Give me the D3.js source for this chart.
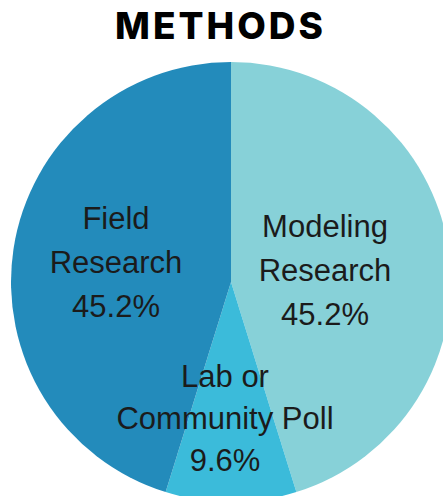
<!DOCTYPE html>
<meta charset="utf-8">
<style>
body {
  margin: 0;
  overflow: hidden;
  background: #fff;
}
.labels text {
  font-family: "Liberation Sans", Arial, sans-serif;
  font-size: 31px;
  fill: #1b1b1b;
  text-anchor: middle;
}
.title {
  font-family: Inter, "DejaVu Sans", sans-serif;
  font-weight: 800;
  font-size: 37px;
  fill: #000;
  text-anchor: middle;
}
</style>
<svg id="svg" width="443" height="496"></svg>
<script src="https://d3js.org/d3.v7.min.js"></script>
<script>

// slices, clockwise from 12 o'clock
var methods = ["Modeling Research", "Lab or Community Poll", "Field Research"];
var shares = [45.2, 9.6, 45.2];
var labelLines = [["Modeling", "Research"], ["Lab or", "Community Poll"], ["Field", "Research"]];
var colors = ["#87d1d8", "#3bbbda", "#238bbb"];

var svg = d3.select("svg"),
    cx = 231,
    cy = 282,
    radius = 220;

var color = d3.scaleOrdinal().domain(methods).range(colors);

var pie = d3.pie()
    .sort(null)
    .value(function(d, i) { return shares[i]; });

var arc = d3.arc().innerRadius(0).outerRadius(radius);

var arcs = pie(methods);

var g = svg.append("g").attr("transform", "translate(" + cx + "," + cy + ")");

g.append("g").selectAll("path")
    .data(arcs)
    .enter().append("path")
    .attr("d", arc)
    .attr("fill", function(d) { return color(d.data); });

// label anchor points (centre of first line baseline, relative to pie centre)
var labelPos = [[94, -45], [-6, 105], [-115, -53]];
var lineGap = [44, 42, 44];

var labels = g.append("g").attr("class", "labels");
arcs.forEach(function(d, i) {
  var lines = labelLines[i].concat([shares[i].toFixed(1) + "%"]);
  var t = labels.append("text")
      .attr("x", labelPos[i][0])
      .attr("y", labelPos[i][1]);
  lines.forEach(function(s, j) {
    t.append("tspan")
        .attr("x", labelPos[i][0])
        .attr("y", labelPos[i][1] + j * lineGap[i])
        .text(s);
  });
});

svg.append("text")
    .attr("class", "title")
    .attr("x", 219)
    .attr("y", 39)
    .attr("textLength", 208)
    .attr("lengthAdjust", "spacing")
    .text("METHODS");

</script>
